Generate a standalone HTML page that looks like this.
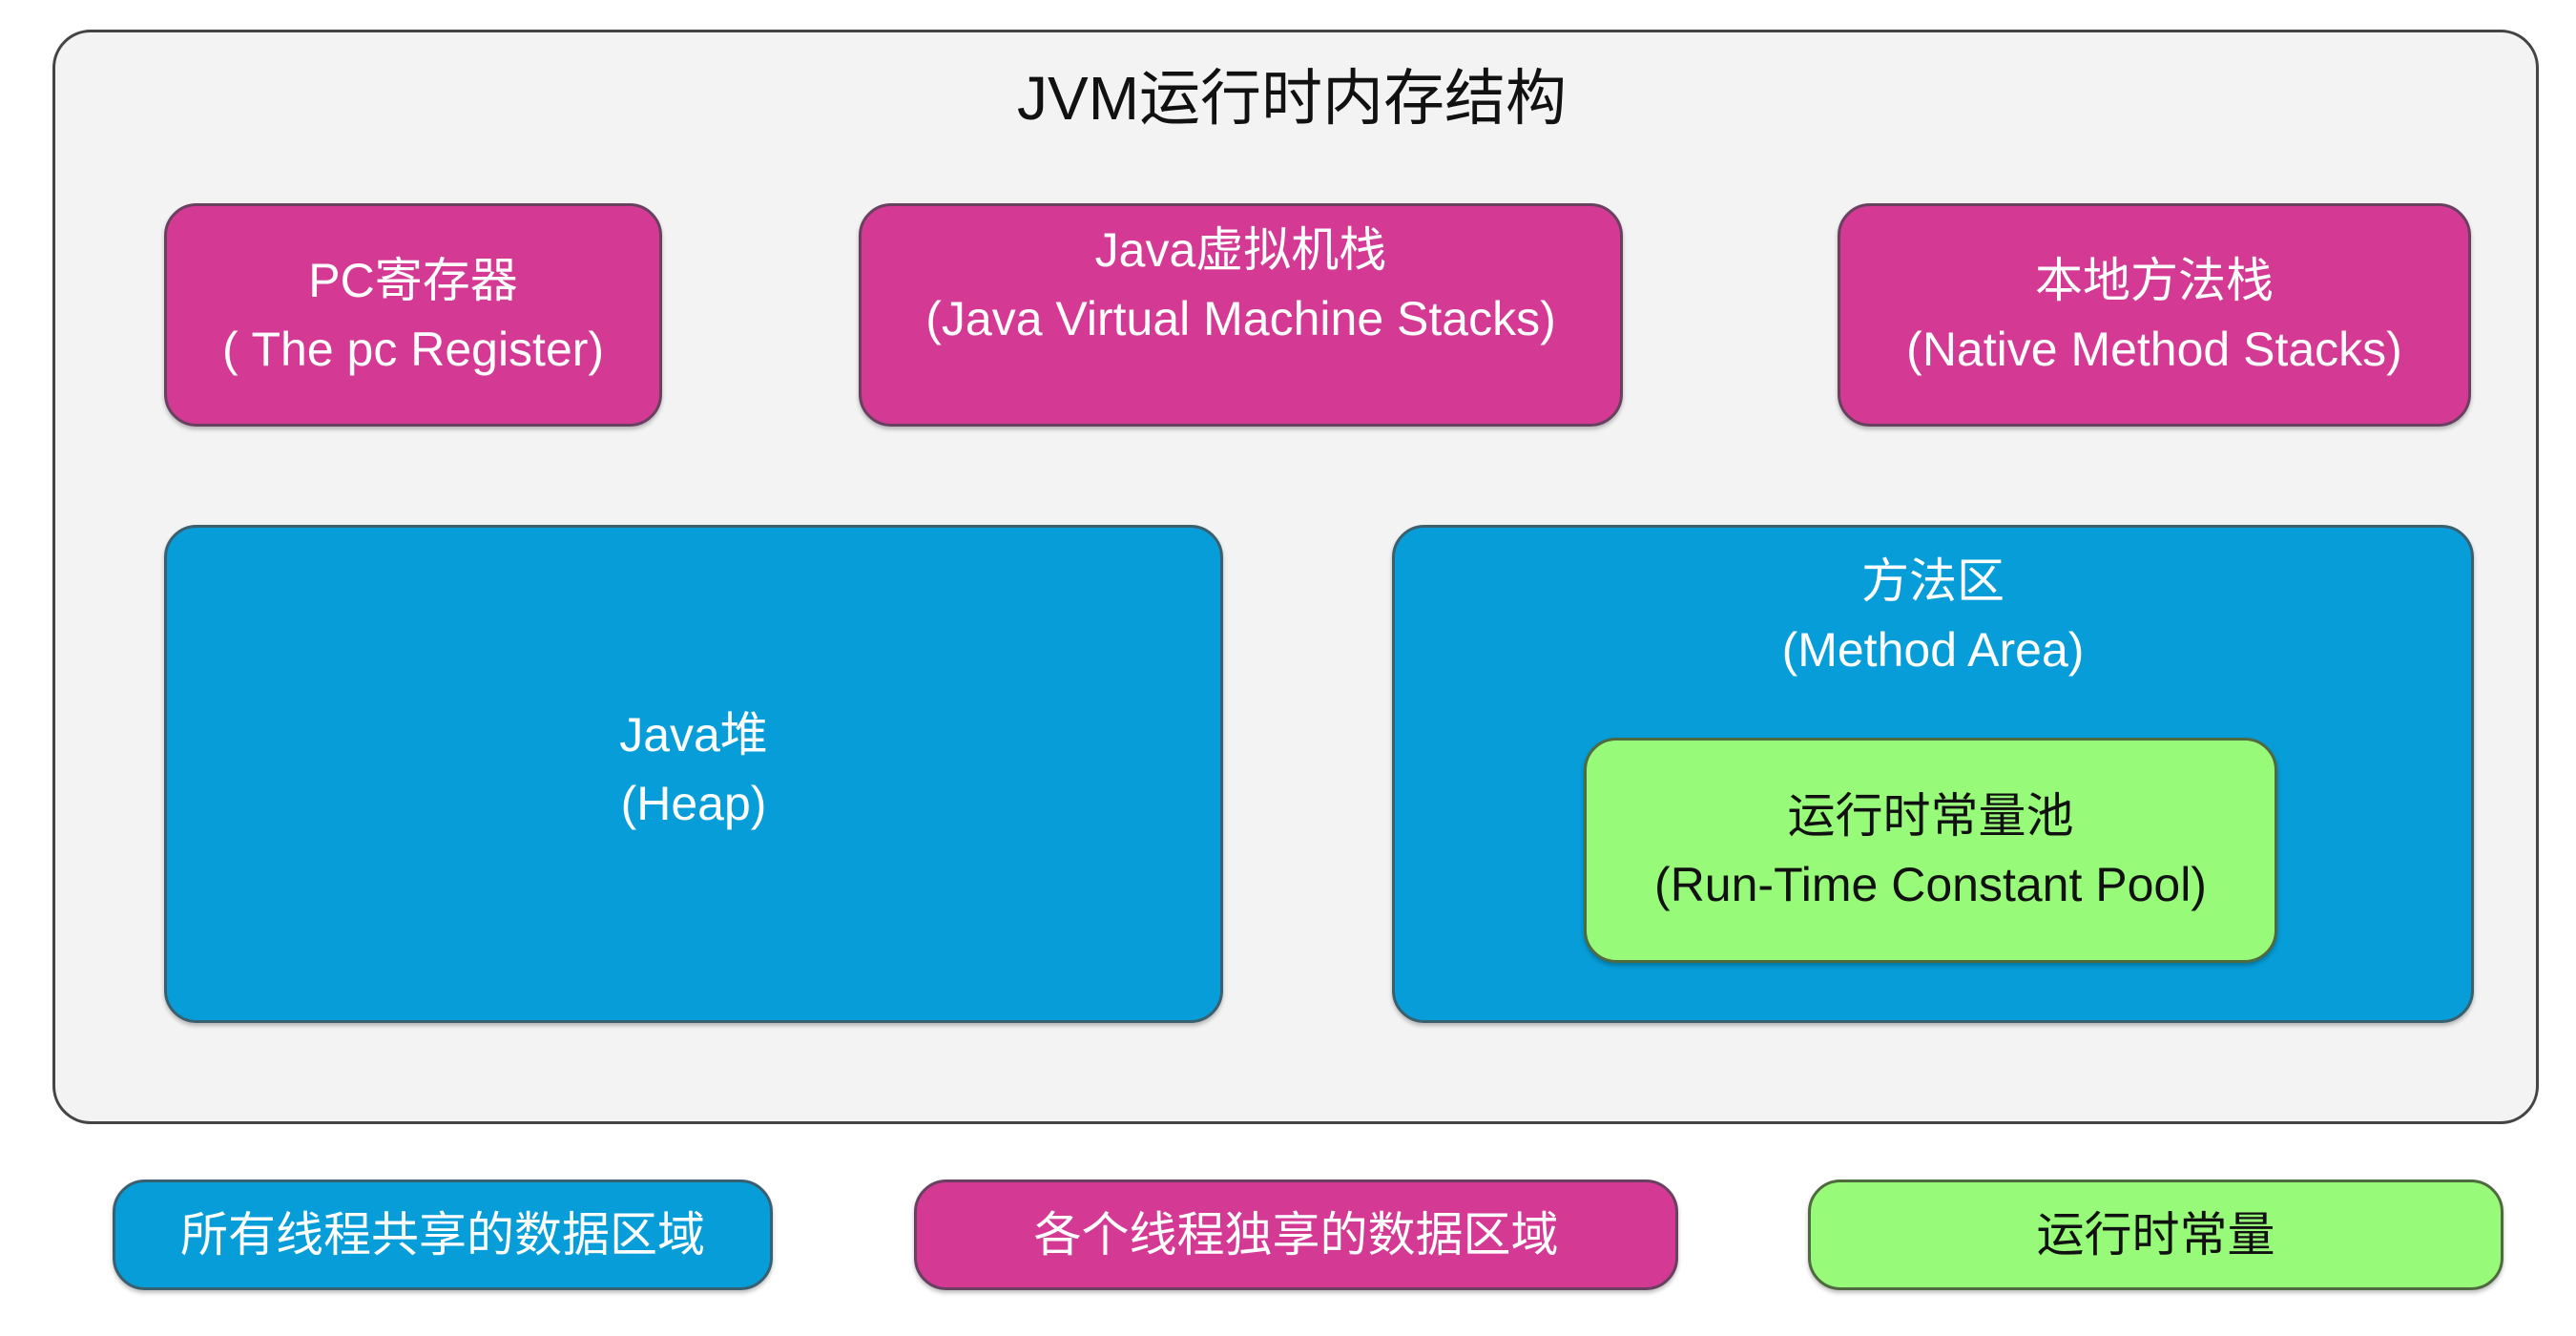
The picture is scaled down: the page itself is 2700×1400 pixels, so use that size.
<!DOCTYPE html>
<html><head><meta charset="utf-8"><style>
body{margin:0;width:2700px;height:1400px;background:#fff;position:relative;overflow:hidden;font-family:"Liberation Sans","Noto Sans CJK SC",sans-serif;}
.b{position:absolute;box-sizing:border-box;border-radius:34px;display:flex;flex-direction:column;align-items:center;justify-content:center;text-align:center;line-height:72px;font-size:50px;color:#fff;}
.m{background:#d43a94;border:3px solid #6a4060;box-shadow:0 3px 4px rgba(0,0,0,.25);}
.u{background:#069dd8;border:3px solid #3a6070;box-shadow:0 3px 4px rgba(0,0,0,.25);}
.g{background:#98fa79;border:3px solid #506a40;color:#111;box-shadow:0 3px 4px rgba(0,0,0,.25);}
</style></head><body>
<div class="b" style="left:55px;top:31px;width:2606px;height:1147px;background:#f3f3f3;border:3px solid #444;border-radius:40px;"></div>
<div style="position:absolute;left:0;width:2708px;top:52px;text-align:center;font-size:64px;color:#111;">JVM运行时内存结构</div>
<div class="b m" style="left:172px;top:213px;width:522px;height:234px;">PC寄存器<br>( The pc Register)</div>
<div class="b m" style="left:900px;top:213px;width:801px;height:234px;justify-content:flex-start;padding-top:10px;">Java虚拟机栈<br>(Java Virtual Machine Stacks)</div>
<div class="b m" style="left:1926px;top:213px;width:664px;height:234px;">本地方法栈<br>(Native Method Stacks)</div>
<div class="b u" style="left:172px;top:550px;width:1110px;height:522px;padding-bottom:10px;">Java堆<br>(Heap)</div>
<div class="b u" style="left:1459px;top:550px;width:1134px;height:522px;justify-content:flex-start;padding-top:20px;">方法区<br>(Method Area)</div>
<div class="b g" style="left:1660px;top:773px;width:727px;height:236px;">运行时常量池<br>(Run-Time Constant Pool)</div>
<div class="b u" style="left:118px;top:1236px;width:692px;height:116px;">所有线程共享的数据区域</div>
<div class="b m" style="left:958px;top:1236px;width:801px;height:116px;">各个线程独享的数据区域</div>
<div class="b g" style="left:1895px;top:1236px;width:729px;height:116px;">运行时常量</div>
</body></html>
